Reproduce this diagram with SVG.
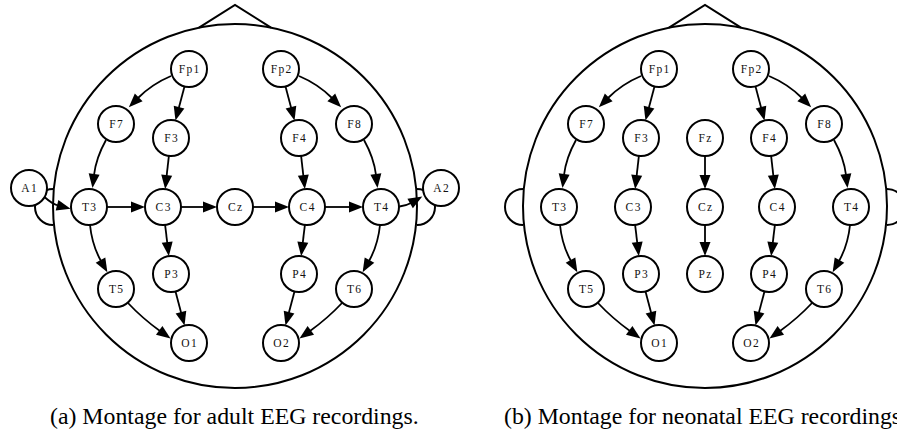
<svg xmlns="http://www.w3.org/2000/svg" width="897" height="435" viewBox="0 0 897 435">
  <defs>
    <marker id="arr" markerUnits="userSpaceOnUse" markerWidth="14" markerHeight="11" refX="1" refY="5.5" orient="auto" overflow="visible">
      <path d="M0,0 L14,5.5 L0,11 z" fill="#000"/>
    </marker>
    <style>
      .head { fill: none; stroke: #000; stroke-width: 2; }
      .node circle { fill: #fff; stroke: #000; stroke-width: 2; }
      .node text { font-family: "Liberation Serif", "Times New Roman", serif; font-size: 11.5px; letter-spacing: 1.4px; text-anchor: middle; fill: #111; }
      .edges path { fill: none; stroke: #000; stroke-width: 1.8; marker-end: url(#arr); }
      .caption { font-family: "Liberation Serif", "Times New Roman", serif; font-size: 23.8px; fill: #000; }
    </style>
  </defs>

  <rect width="897" height="435" fill="#fff"/>

  <!-- Panel (a): adult montage -->
  <g id="panel-a">
    <g id="a-head">
      <circle class="head" cx="235" cy="206" r="182"/>
      <path class="head" d="M199,27.6 L235,5 L271,27.6"/>
      <path class="head" d="M53,189 A18,18 0 0 0 53,225"/>
      <path class="head" d="M417,189 A18,18 0 0 1 417,225"/>
    </g>

    <g id="a-edges" class="edges">
      <path d="M171,76 Q152,84 138,98"/>
      <path d="M184.5,86.4 L178.8,108"/>
      <path d="M299,76 Q318,84 332,98"/>
      <path d="M285.5,86.4 L291.2,108"/>
      <path d="M106,140 Q96,158 94,175"/>
      <path d="M168.9,155.9 L166.6,176.2"/>
      <path d="M301.1,155.9 L303.4,176.2"/>
      <path d="M364,140 Q374,158 376,175"/>
      <path d="M44.5,197 C50,202 54,204.5 58,205.5"/>
      <path d="M107,207 L132,207"/>
      <path d="M181,207 L204,207"/>
      <path d="M253,207 L276,207"/>
      <path d="M325,207 L350,207"/>
      <path d="M399.5,206.5 C404,206 407.5,205 411,203"/>
      <path d="M90,225 Q92,245 101,261"/>
      <path d="M165.1,224.9 L167.3,243.2"/>
      <path d="M304.9,224.9 L302.7,243.2"/>
      <path d="M380,225 Q378,245 369,261"/>
      <path d="M128,303 Q142,318 160,331"/>
      <path d="M175.5,291.4 L181.2,313"/>
      <path d="M294.5,291.4 L288.8,313"/>
      <path d="M342,303 Q328,318 310,331"/>
    </g>

    <g id="a-Fp1" class="node"><circle cx="189" cy="69" r="18"/><text x="189.7" y="73">Fp1</text></g>
    <g id="a-Fp2" class="node"><circle cx="281" cy="69" r="18"/><text x="281.7" y="73">Fp2</text></g>
    <g id="a-F7" class="node"><circle cx="116" cy="124" r="18"/><text x="116.7" y="128">F7</text></g>
    <g id="a-F3" class="node"><circle cx="171" cy="138" r="18"/><text x="171.7" y="142">F3</text></g>
    <g id="a-F4" class="node"><circle cx="299" cy="138" r="18"/><text x="299.7" y="142">F4</text></g>
    <g id="a-F8" class="node"><circle cx="354" cy="124" r="18"/><text x="354.7" y="128">F8</text></g>
    <g id="a-A1" class="node"><circle cx="29" cy="188" r="18"/><text x="29.7" y="192">A1</text></g>
    <g id="a-T3" class="node"><circle cx="89" cy="207" r="18"/><text x="89.7" y="211">T3</text></g>
    <g id="a-C3" class="node"><circle cx="163" cy="207" r="18"/><text x="163.7" y="211">C3</text></g>
    <g id="a-Cz" class="node"><circle cx="235" cy="207" r="18"/><text x="235.7" y="211">Cz</text></g>
    <g id="a-C4" class="node"><circle cx="307" cy="207" r="18"/><text x="307.7" y="211">C4</text></g>
    <g id="a-T4" class="node"><circle cx="381" cy="207" r="18"/><text x="381.7" y="211">T4</text></g>
    <g id="a-A2" class="node"><circle cx="441" cy="188" r="18"/><text x="441.7" y="192">A2</text></g>
    <g id="a-T5" class="node"><circle cx="116" cy="289" r="18"/><text x="116.7" y="293">T5</text></g>
    <g id="a-P3" class="node"><circle cx="171" cy="274" r="18"/><text x="171.7" y="278">P3</text></g>
    <g id="a-P4" class="node"><circle cx="299" cy="274" r="18"/><text x="299.7" y="278">P4</text></g>
    <g id="a-T6" class="node"><circle cx="354" cy="289" r="18"/><text x="354.7" y="293">T6</text></g>
    <g id="a-O1" class="node"><circle cx="189" cy="343" r="18"/><text x="189.7" y="347">O1</text></g>
    <g id="a-O2" class="node"><circle cx="281" cy="343" r="18"/><text x="281.7" y="347">O2</text></g>

    <text class="caption" x="50" y="424">(a) Montage for adult EEG recordings.</text>
  </g>

  <!-- Panel (b): neonatal montage -->
  <g id="panel-b" transform="translate(470,0)">
    <g id="b-head">
      <circle class="head" cx="235" cy="206" r="182"/>
      <path class="head" d="M199,27.6 L235,5 L271,27.6"/>
      <path class="head" d="M53,189 A18,18 0 0 0 53,225"/>
      <path class="head" d="M417,189 A18,18 0 0 1 417,225"/>
    </g>

    <g id="b-edges" class="edges">
      <path d="M171,76 Q152,84 138,98"/>
      <path d="M184.5,86.4 L178.8,108"/>
      <path d="M299,76 Q318,84 332,98"/>
      <path d="M285.5,86.4 L291.2,108"/>
      <path d="M106,140 Q96,158 94,175"/>
      <path d="M168.9,155.9 L166.6,176.2"/>
      <path d="M235,156 L235,176"/>
      <path d="M301.1,155.9 L303.4,176.2"/>
      <path d="M364,140 Q374,158 376,175"/>
      <path d="M90,225 Q92,245 101,261"/>
      <path d="M165.1,224.9 L167.3,243.2"/>
      <path d="M235,225 L235,243"/>
      <path d="M304.9,224.9 L302.7,243.2"/>
      <path d="M380,225 Q378,245 369,261"/>
      <path d="M128,303 Q142,318 160,331"/>
      <path d="M175.5,291.4 L181.2,313"/>
      <path d="M294.5,291.4 L288.8,313"/>
      <path d="M342,303 Q328,318 310,331"/>
    </g>

    <g id="b-Fp1" class="node"><circle cx="189" cy="69" r="18"/><text x="189.7" y="73">Fp1</text></g>
    <g id="b-Fp2" class="node"><circle cx="281" cy="69" r="18"/><text x="281.7" y="73">Fp2</text></g>
    <g id="b-F7" class="node"><circle cx="116" cy="124" r="18"/><text x="116.7" y="128">F7</text></g>
    <g id="b-F3" class="node"><circle cx="171" cy="138" r="18"/><text x="171.7" y="142">F3</text></g>
    <g id="b-Fz" class="node"><circle cx="235" cy="138" r="18"/><text x="235.7" y="142">Fz</text></g>
    <g id="b-F4" class="node"><circle cx="299" cy="138" r="18"/><text x="299.7" y="142">F4</text></g>
    <g id="b-F8" class="node"><circle cx="354" cy="124" r="18"/><text x="354.7" y="128">F8</text></g>
    <g id="b-T3" class="node"><circle cx="89" cy="207" r="18"/><text x="89.7" y="211">T3</text></g>
    <g id="b-C3" class="node"><circle cx="163" cy="207" r="18"/><text x="163.7" y="211">C3</text></g>
    <g id="b-Cz" class="node"><circle cx="235" cy="207" r="18"/><text x="235.7" y="211">Cz</text></g>
    <g id="b-C4" class="node"><circle cx="307" cy="207" r="18"/><text x="307.7" y="211">C4</text></g>
    <g id="b-T4" class="node"><circle cx="381" cy="207" r="18"/><text x="381.7" y="211">T4</text></g>
    <g id="b-T5" class="node"><circle cx="116" cy="289" r="18"/><text x="116.7" y="293">T5</text></g>
    <g id="b-P3" class="node"><circle cx="171" cy="274" r="18"/><text x="171.7" y="278">P3</text></g>
    <g id="b-Pz" class="node"><circle cx="235" cy="274" r="18"/><text x="235.7" y="278">Pz</text></g>
    <g id="b-P4" class="node"><circle cx="299" cy="274" r="18"/><text x="299.7" y="278">P4</text></g>
    <g id="b-T6" class="node"><circle cx="354" cy="289" r="18"/><text x="354.7" y="293">T6</text></g>
    <g id="b-O1" class="node"><circle cx="189" cy="343" r="18"/><text x="189.7" y="347">O1</text></g>
    <g id="b-O2" class="node"><circle cx="281" cy="343" r="18"/><text x="281.7" y="347">O2</text></g>

    <text class="caption" x="34" y="424">(b) Montage for neonatal EEG recordings.</text>
  </g>
</svg>
